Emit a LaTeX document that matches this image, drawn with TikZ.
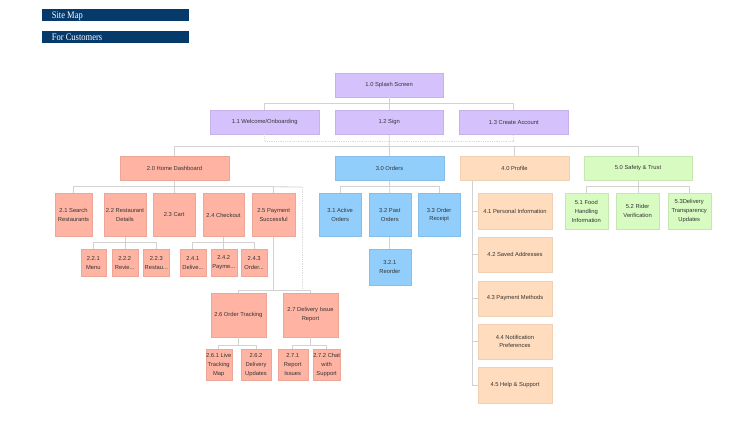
\documentclass[tikz,border=0pt]{standalone}
\usepackage{fontspec}
\setmainfont{Liberation Sans}
\newfontfamily\hdrfont[FakeStretch=0.85]{Liberation Serif}
\usetikzlibrary{calc}
\definecolor{hdrblue}{HTML}{063A6A}
\definecolor{cpurple}{HTML}{D5C2FC}
\definecolor{csalmon}{HTML}{FFB4A3}
\definecolor{cblue}{HTML}{92CEFB}
\definecolor{cpeach}{HTML}{FFDCBD}
\definecolor{cgreen}{HTML}{D8FBC2}
\definecolor{lineg}{HTML}{D2D2D2}
\definecolor{txtg}{HTML}{333333}
\newcommand\mybox[7]{\node[#6, minimum width={(#4-#2)*1pt}, minimum height={(#5-#3)*1pt}] (#1) at ({(#2+#4)/2},{(#3+#5)/2}) {#7};}
\tikzset{
  boxbase/.style={rectangle, inner sep=0pt, align=center, text=txtg, font=\fontsize{5.8}{8.8}\selectfont, line width=0.4pt},
  bpurple/.style={boxbase, fill=cpurple, draw=cpurple!92!black},
  bsalmon/.style={boxbase, fill=csalmon, draw=csalmon!92!black},
  bblue/.style={boxbase, fill=cblue, draw=cblue!92!black},
  bpeach/.style={boxbase, fill=cpeach, draw=cpeach!94!black},
  bgreen/.style={boxbase, fill=cgreen, draw=cgreen!92!black},
  hdr/.style={rectangle, inner sep=0pt, fill=hdrblue, draw=none},
  hdrtext/.style={text=white, font=\hdrfont\fontsize{10}{10}\selectfont, inner sep=0pt, anchor=west},
  conn/.style={draw=lineg, line width=0.8pt},
  dotline/.style={draw=lineg!80, line width=0.7pt, dash pattern=on 1pt off 0.8pt},
}
\begin{document}
\begin{tikzpicture}[x=1pt,y=-1pt]
\useasboundingbox (0,0) rectangle (741,438);
\fill[white] (0,0) rectangle (741,438);

% headers
\mybox{hA}{42.3}{9.5}{189.3}{21.5}{hdr}{}
\mybox{hB}{42.3}{31}{189.3}{42.7}{hdr}{}
\node[hdrtext] (hAt) at (51.7,15.8) {Site Map};
\node[hdrtext] (hBt) at (51.7,37) {For Customers};

% level 0/1
\mybox{n10}{335}{73.3}{443.3}{97.3}{bpurple}{1.0 Splash Screen}
\mybox{n11}{210}{110}{319.3}{134.3}{bpurple}{1.1 Welcome/Onboarding}
\mybox{n12}{335}{110}{443.3}{134.3}{bpurple}{1.2 Sign}
\mybox{n13}{459.3}{110}{568.3}{134.3}{bpurple}{1.3 Create Account}

% level 2 heads
\mybox{n20}{120}{156}{229}{180.6}{bsalmon}{2.0 Home Dashboard}
\mybox{n30}{335}{156}{444}{180.6}{bblue}{3.0 Orders}
\mybox{n40}{460}{156}{569}{180.6}{bpeach}{4.0 Profile}
\mybox{n50}{584.3}{156}{691.7}{180.6}{bgreen}{5.0 Safety \& Trust}

% 2.x
\mybox{n21}{54.7}{193.3}{92.3}{236.6}{bsalmon}{2.1 Search\\Restaurants}
\mybox{n22}{104}{193.3}{146}{236.6}{bsalmon}{2.2 Restaurant\\Details}
\mybox{n23}{153.3}{193.3}{195}{236.6}{bsalmon}{2.3 Cart}
\mybox{n24}{202.7}{193.3}{244.3}{236.6}{bsalmon}{2.4 Checkout}
\mybox{n25}{252.3}{193.3}{295}{236.6}{bsalmon}{2.5 Payment\\Successful}

\mybox{n221}{80.7}{249}{106}{276.6}{bsalmon}{2.2.1\\Menu}
\mybox{n222}{111.7}{249}{137.7}{276.6}{bsalmon}{2.2.2\\Revie...}
\mybox{n223}{143.3}{249}{169.3}{276.6}{bsalmon}{2.2.3\\Restau...}
\mybox{n241}{180}{249}{205.7}{276.6}{bsalmon}{2.4.1\\Delive...}
\mybox{n242}{210.7}{249}{236.7}{276.6}{bsalmon}{2.4.2\\Payme...}
\mybox{n243}{241}{249}{267.3}{276.6}{bsalmon}{2.4.3\\Order...}

\mybox{n26}{211}{293}{265.7}{336.7}{bsalmon}{2.6 Order Tracking}
\mybox{n27}{283.3}{293}{337.7}{336.7}{bsalmon}{2.7 Delivery Issue\\Report}

\mybox{n261}{205.7}{349}{231.7}{380.6}{bsalmon}{2.6.1 Live\\Tracking\\Map}
\mybox{n262}{241}{349}{271}{380.6}{bsalmon}{2.6.2\\Delivery\\Updates}
\mybox{n271}{277.7}{349}{307.7}{380.6}{bsalmon}{2.7.1\\Report\\Issues}
\mybox{n272}{313.3}{349}{340}{380.6}{bsalmon}{2.7.2 Chat\\with\\Support}

% 3.x
\mybox{n31}{319.3}{193.3}{361}{236.6}{bblue}{3.1 Active\\Orders}
\mybox{n32}{369}{193.3}{410.7}{236.6}{bblue}{3.2 Past\\Orders}
\mybox{n33}{418.3}{193.3}{460}{236.6}{bblue}{3.3 Order\\Receipt}
\mybox{n321}{369}{249}{410.7}{285}{bblue}{3.2.1\\Reorder}

% 4.x
\mybox{n41}{478.3}{193.3}{551.7}{229}{bpeach}{4.1 Personal Information}
\mybox{n42}{478.3}{237.2}{551.7}{272}{bpeach}{4.2 Saved Addresses}
\mybox{n43}{478.3}{280.7}{551.7}{315.7}{bpeach}{4.3 Payment Methods}
\mybox{n44}{478.3}{324}{551.7}{359}{bpeach}{4.4 Notification\\Preferences}
\mybox{n45}{478.3}{367.3}{551.7}{402.7}{bpeach}{4.5 Help \& Support}

% 5.x
\mybox{n51}{565}{193.3}{607.7}{229}{bgreen}{5.1 Food\\Handling\\Information}
\mybox{n52}{616}{193.3}{659.3}{229}{bgreen}{5.2 Rider\\Verification}
\mybox{n53}{667.7}{193.3}{710.7}{229}{bgreen}{5.3Delivery\\Transparency\\Updates}

% ---------- connectors ----------
\begin{scope}[on background layer/.style={}]
% level 1
\draw[conn] (n11.north) -- ++(0,-6.7) -| (n13.north);
\draw[conn] (n10.south) -- (n12.north);
\draw[dotline] (n11.south) -- ++(0,6.7) -| (n13.south);
\draw[conn] (n12.south) -- (n30.north);
% main bus
\draw[conn] (n20.north) -- ++(0,-9.6) -| (n50.north);
\draw[conn] (n40.north) -- ++(0,-9.6);
% 2.x
\draw[conn] (n21.north) -- ++(0,-6.3) -| (n25.north);
\draw[conn] (n20.south) -- (n20.south |- n23.north);
\coordinate (eA) at (302,187);
\coordinate (eB) at (302,291);
\draw[conn] ($(n25.north)+(0,-6.3)$) -- (eA);
\draw[dotline] (eA) -- (eB);
% 2.2.x
\draw[conn] (n221.north) -- ++(0,-6.5) -| (n223.north);
\draw[conn] (n22.south) -- (n22.south |- n222.north);
% 2.4.x
\draw[conn] (n241.north) -- ++(0,-6.5) -| (n243.north);
\draw[conn] (n24.south) -- (n24.south |- n242.north);
% 2.6 / 2.7
\draw[conn] (n26.north) -- ++(0,-2) -| (n27.north);
\draw[conn] (n25.south) -- ($(n25.south |- n26.north)+(0,-2)$);
% 2.6.x / 2.7.x
\draw[conn] (n261.north) -- ++(0,-3.5) -| (n262.north);
\draw[conn] (n26.south) -- ($(n26.south |- n261.north)+(0,-3.5)$);
\draw[conn] (n271.north) -- ++(0,-3.5) -| (n272.north);
\draw[conn] (n27.south) -- ($(n27.south |- n271.north)+(0,-3.5)$);
% 3.x
\draw[conn] (n31.north) -- ++(0,-6.3) -| (n33.north);
\draw[conn] (n30.south) -- (n32.north);
\draw[conn] (n32.south) -- (n321.north);
% 4.x
\coordinate (v4) at (472.7,180.6);
\draw[conn] (v4) |- (n45.west);
\draw[conn] (v4 |- n41.west) -- (n41.west);
\draw[conn] (v4 |- n42.west) -- (n42.west);
\draw[conn] (v4 |- n43.west) -- (n43.west);
\draw[conn] (v4 |- n44.west) -- (n44.west);
% 5.x
\draw[conn] (n51.north) -- ++(0,-7) -| (n53.north);
\draw[conn] (n50.south) -- (n50.south |- n52.north);
\end{scope}
\end{tikzpicture}
\end{document}
